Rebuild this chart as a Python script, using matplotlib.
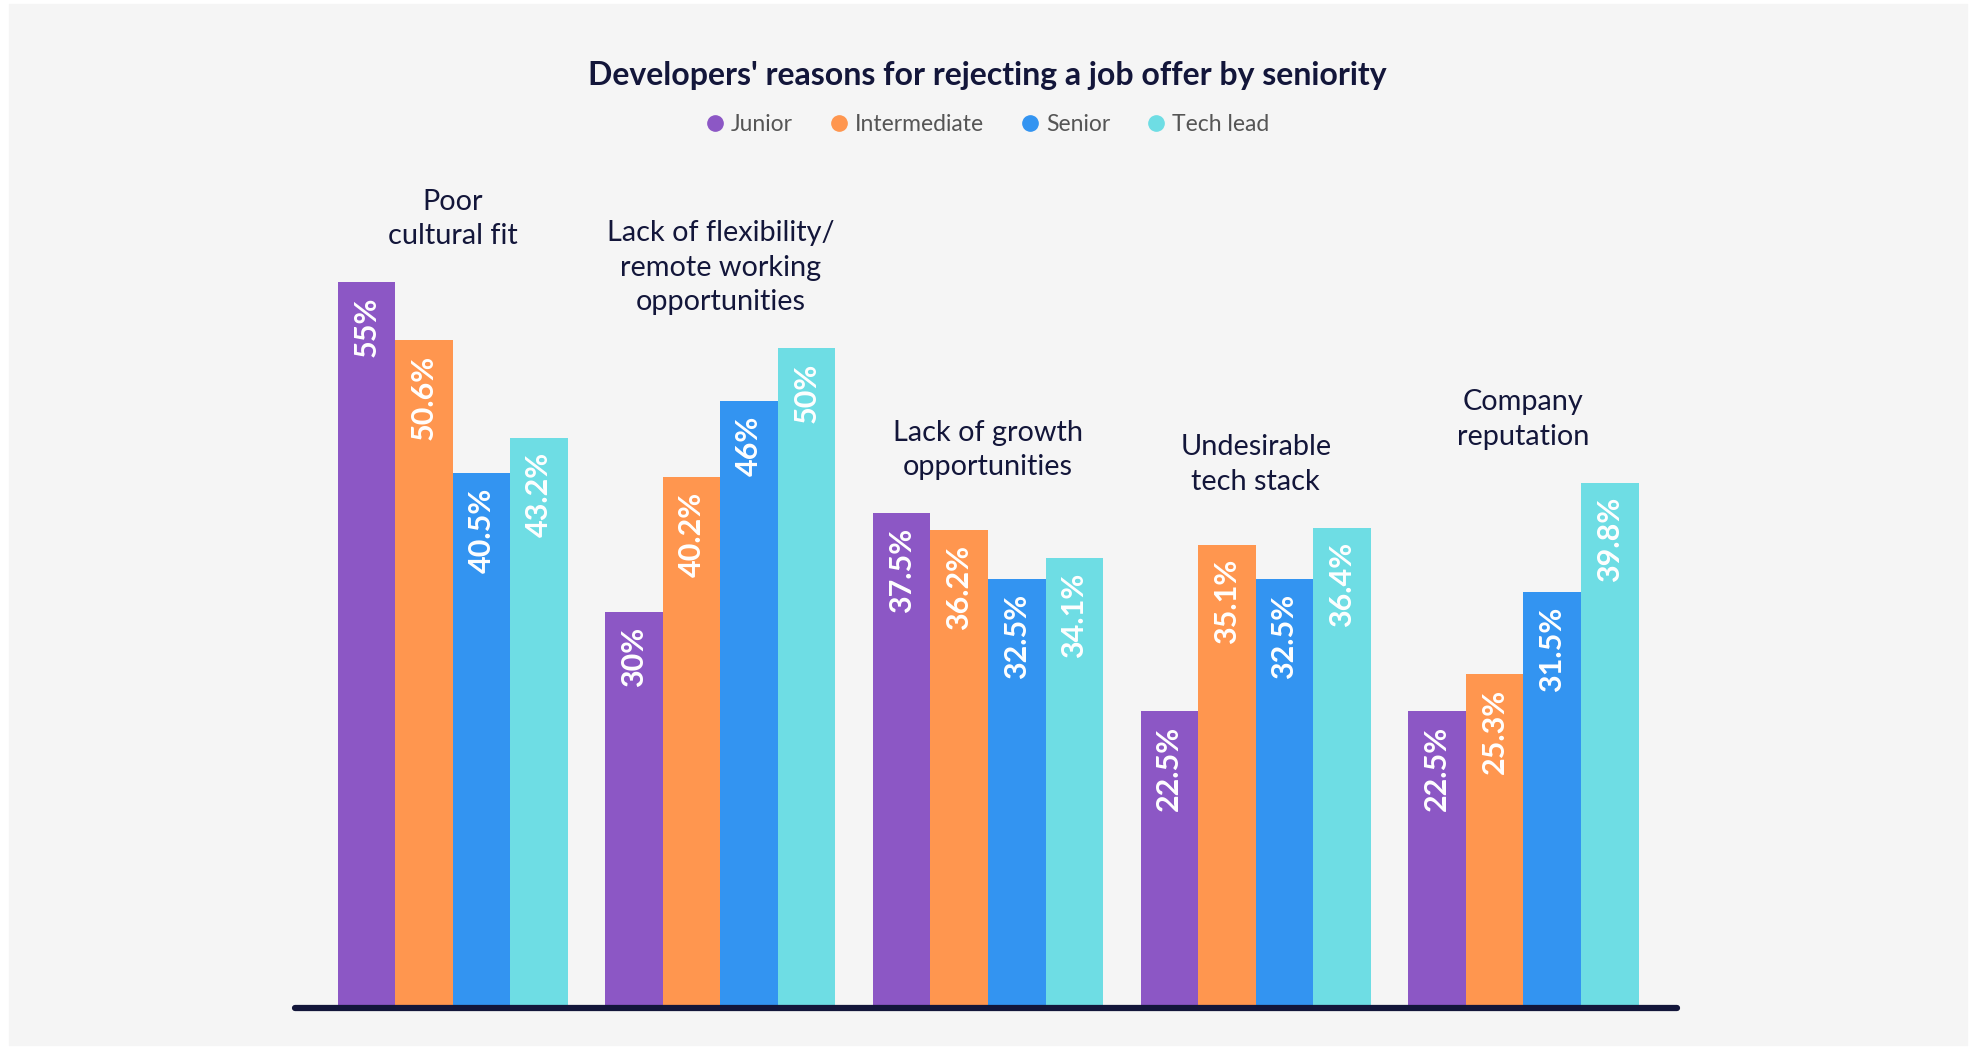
import matplotlib.pyplot as plt
from matplotlib.patches import Rectangle
from matplotlib.lines import Line2D
import numpy as np

plt.rcParams['font.family'] = ['Lato', 'DejaVu Sans']

categories = ["Poor\ncultural fit",
              "Lack of flexibility/\nremote working\nopportunities",
              "Lack of growth\nopportunities",
              "Undesirable\ntech stack",
              "Company\nreputation"]
series = ["Junior", "Intermediate", "Senior", "Tech lead"]
junior = [55, 30, 37.5, 22.5, 22.5]
intermediate = [50.6, 40.2, 36.2, 35.1, 25.3]
senior = [40.5, 46, 32.5, 32.5, 31.5]
tech_lead = [43.2, 50, 34.1, 36.4, 39.8]
labels = [["55%", "30%", "37.5%", "22.5%", "22.5%"],
          ["50.6%", "40.2%", "36.2%", "35.1%", "25.3%"],
          ["40.5%", "46%", "32.5%", "32.5%", "31.5%"],
          ["43.2%", "50%", "34.1%", "36.4%", "39.8%"]]

colors = ["#8c57c5", "#ff964f", "#3394f1", "#6edde4"]
navy = "#13163a"

W, H = 1975, 1047
fig = plt.figure(figsize=(W / 100, H / 100), dpi=100)
fig.patch.set_facecolor("white")
fig.patches.append(Rectangle((9 / W, 2 / H), 1958 / W, 1041 / H,
                             transform=fig.transFigure, color="#f5f5f5", zorder=-5))

# axes placed so the baseline sits at the right pixel row
ax = fig.add_axes([292 / W, 39 / H, 1388 / W, 924 / H])
ax.set_xlim(-0.6, 4.585)
ax.set_ylim(0, 70)
ax.axis("off")

x = np.arange(len(categories))
w = 0.215
data = [junior, intermediate, senior, tech_lead]
for i, vals in enumerate(data):
    pos = x + (i - 1.5) * w
    ax.bar(pos, vals, width=w, color=colors[i], zorder=2)
    for p, v, t in zip(pos, vals, labels[i]):
        ax.text(p, v - 1.1, t, rotation=90, ha="center", va="top",
                color="white", fontsize=22, fontweight="bold", zorder=3)

for xi, cat in enumerate(categories):
    top = max(d[xi] for d in data)
    ax.text(xi, top + 2.5, cat, ha="center", va="bottom", fontsize=20.8,
            color=navy, linespacing=1.4, zorder=3)

ax.plot([-0.59, 4.575], [0, 0], color=navy, lw=4.5, solid_capstyle="round",
        clip_on=False, zorder=4)

fig.text(0.5, 1 - 75.5 / H, "Developers' reasons for rejecting a job offer by seniority",
         ha="center", va="center", fontsize=23, fontweight="bold", color=navy)

handles = [Line2D([], [], marker="o", ls="", color=c, markersize=11) for c in colors]
fig.legend(handles, series, loc="center", bbox_to_anchor=(0.5, 1 - 124.5 / H), ncol=4,
           frameon=False, fontsize=16.5, handlelength=0.8, handletextpad=0.3,
           columnspacing=1.6, labelcolor="#555555")

fig.savefig("out.png", dpi=100, facecolor=fig.get_facecolor())
